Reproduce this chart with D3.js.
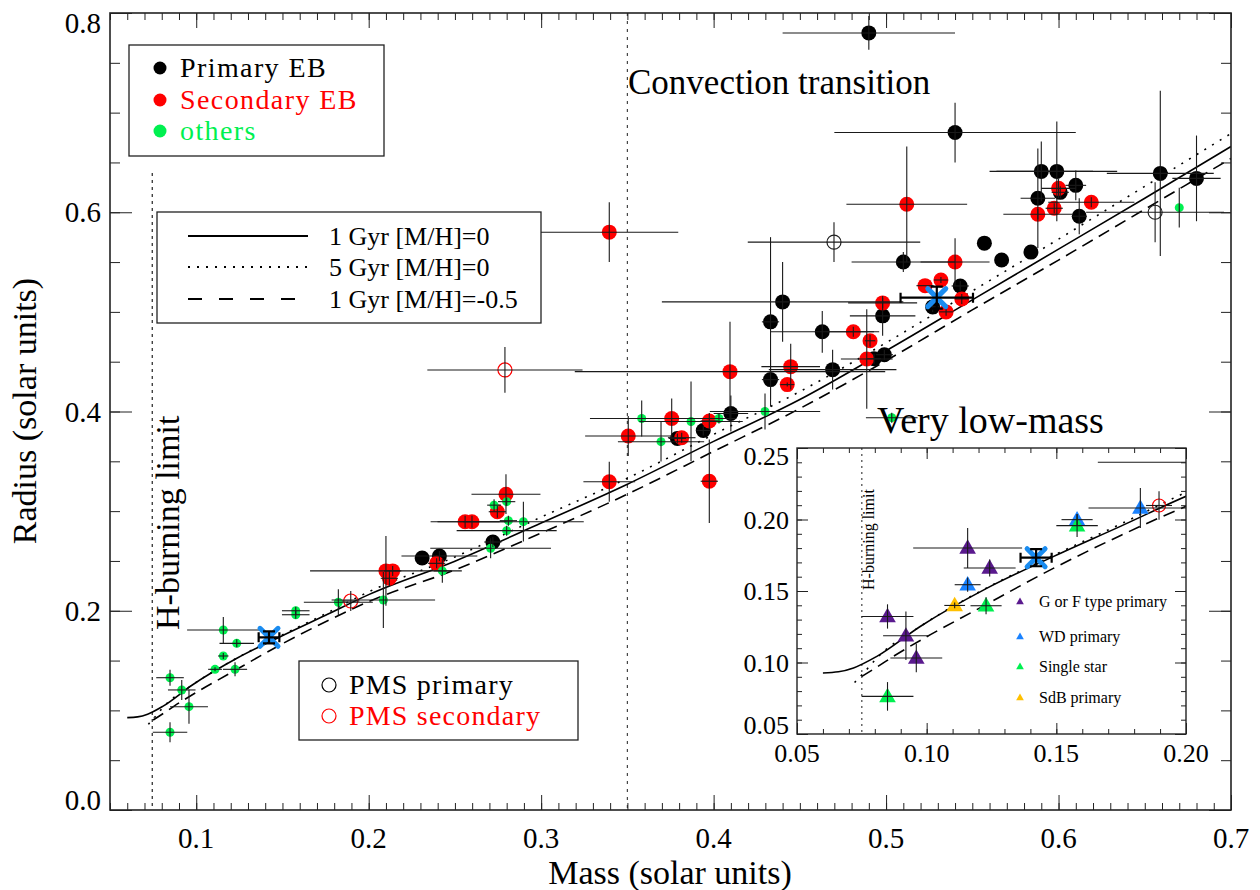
<!DOCTYPE html>
<html>
<head>
<meta charset="utf-8">
<script src="https://cdn.jsdelivr.net/npm/d3@7"></script>
<style>
body { margin: 0; background: #fff; }
svg text { font-family: "Liberation Serif", "DejaVu Serif", "Times New Roman", serif; }
</style>
</head>
<body>
<svg id="chart" width="1260" height="890" font-family="Liberation Serif, DejaVu Serif, serif"></svg>
<script>
// ---- data: main panel ----
// primary EB (black filled)
const primMass = [0.490,0.540,0.590,0.599,0.601,0.610,0.588,0.612,0.659,0.680,0.510,0.557,0.567,0.584,0.498,0.493,0.499,0.543,0.527,0.440,0.433,0.433,0.463,0.469,0.410,0.394,0.379,0.272,0.231,0.241];
const primRad  = [0.780,0.680,0.641,0.641,0.620,0.627,0.614,0.596,0.639,0.634,0.550,0.569,0.552,0.560,0.496,0.453,0.457,0.526,0.505,0.510,0.490,0.432,0.480,0.442,0.398,0.381,0.373,0.269,0.253,0.255];
const primMErr = [0.050,0.070,0.030,0.035,0.005,0.006,0.010,0.004,0.031,0.014,0.030,0,0,0,0.019,0.004,0.005,0.005,0.004,0.070,0.005,0.005,0.030,0.037,0.010,0.004,0.005,0.005,0,0.022];
const primRErr = [0.017,0.030,0.030,0.050,0.006,0.015,0.050,0.018,0.083,0.043,0.010,0,0,0,0.020,0.005,0.005,0.005,0.005,0.040,0.085,0.020,0.021,0.020,0.018,0.005,0.005,0.005,0,0.005];

// secondary EB (red filled)
const secMass = [0.3395,0.512,0.540,0.600,0.588,0.5975,0.619,0.498,0.481,0.4907,0.4888,0.5226,0.5318,0.5439,0.5348,0.4095,0.4447,0.4427,0.3975,0.3815,0.3757,0.3505,0.3975,0.3395,0.2796,0.2746,0.2559,0.2599,0.2394,0.210,0.2139,0.212];
const secRad  = [0.580,0.608,0.550,0.624,0.598,0.604,0.610,0.509,0.480,0.471,0.4527,0.5263,0.532,0.513,0.500,0.440,0.445,0.427,0.3905,0.3737,0.393,0.3754,0.330,0.3295,0.317,0.2994,0.2894,0.2894,0.2476,0.240,0.240,0.2326];
const secMErr = [0.040,0.035,0.020,0.010,0.020,0.005,0.025,0.020,0.015,0.003,0.015,0.005,0.004,0.004,0.004,0.090,0.017,0.004,0.005,0.008,0.030,0.025,0.005,0.015,0.020,0.005,0.020,0.020,0.005,0.044,0.005,0.005];
const secRErr = [0.030,0.058,0.024,0.010,0.005,0.005,0.005,0.005,0.005,0.006,0.050,0,0.003,0.005,0.004,0.050,0.023,0.002,0.008,0.005,0.020,0.020,0.042,0.020,0.020,0.006,0.006,0.006,0.005,0.035,0.005,0.008];

// others (green)
const othMass = [0.4298,0.4031,0.3869,0.3695,0.3583,0.5033,0.280,0.2727,0.281,0.2897,0.280,0.2707,0.2427,0.2085,0.1824,0.1577,0.1577,0.1157,0.1235,0.1157,0.1109,0.1225,0.0848,0.0916,0.0958,0.0848,0.670];
const othRad  = [0.400,0.393,0.390,0.3697,0.393,0.3938,0.3095,0.306,0.2904,0.2894,0.2804,0.2627,0.240,0.2108,0.2085,0.200,0.196,0.1807,0.1673,0.1546,0.1412,0.1412,0.1328,0.1205,0.1037,0.078,0.6046];
const othMErr = [0.032,0.010,0.030,0.025,0.030,0.015,0.005,0.004,0.005,0.035,0.029,0.035,0.005,0.030,0.020,0.008,0.008,0.021,0.010,0.003,0.004,0.007,0.008,0.008,0.011,0.010,0];
const othRErr = [0.018,0.005,0.040,0.020,0.018,0.005,0.004,0.006,0.005,0.020,0.005,0.010,0.012,0.028,0.013,0.004,0.004,0.013,0.004,0.003,0.002,0.007,0.008,0.010,0.017,0.010,0.020];

// pre-main-sequence
const pmsPrimMass = [0.4698,0.656];
const pmsPrimRad  = [0.570,0.600];
const pmsPrimMErr = [0.050,0.040];
const pmsPrimRErr = [0.020,0.030];
const pmsSecMass = [0.279,0.1896];
const pmsSecRad  = [0.4417,0.2098];
const pmsSecMErr = [0.045,0.005];
const pmsSecRErr = [0.023,0.010];

// the two highlighted objects (blue crosses)
const starMass = [0.1422,0.5294];
const starRad  = [0.1733,0.5143];
const starMErr = [0.006,0.021];
const starRErr = [0.006,0.011];

// model isochrones
const isoMass1 = [0.060,0.066,0.0718,0.0808,0.0975,0.1233,0.149,0.1747,0.200,0.250,0.300,0.350,0.400,0.450,0.500,0.550,0.600,0.650,0.700];
const isoRad1  = [0.0927,0.0935,0.0962,0.1043,0.1252,0.152,0.1742,0.1952,0.2162,0.2498,0.288,0.327,0.370,0.412,0.461,0.512,0.563,0.614,0.666];
const isoMass5 = [0.0722,0.0757,0.081,0.0975,0.123,0.149,0.175,0.200,0.250,0.300,0.350,0.400,0.450,0.500,0.550,0.600,0.650,0.700];
const isoRad5  = [0.086,0.0927,0.1035,0.1252,0.152,0.175,0.197,0.219,0.254,0.294,0.333,0.377,0.420,0.469,0.521,0.573,0.626,0.679];
const isoMassZ = [0.075,0.081,0.0872,0.100,0.118,0.149,0.175,0.200,0.250,0.300,0.350,0.400,0.450,0.500,0.550,0.600,0.650,0.700];
const isoRadZ  = [0.0903,0.097,0.1043,0.118,0.1357,0.166,0.189,0.2092,0.241,0.278,0.317,0.360,0.403,0.451,0.502,0.552,0.603,0.654];

// ---- data: inset (very low mass, by primary type) ----
const gfMass = [0.0849,0.092,0.096,0.1158,0.1243];
const gfRad  = [0.1322,0.1187,0.1031,0.1801,0.1661];
const gfMErr = [0.010,0.0088,0.010,0.021,0.010];
const gfRErr = [0.0085,0.017,0.010,0.014,0.006];
const wdMass = [0.1158,0.158,0.1824];
const wdRad  = [0.1544,0.1999,0.208];
const wdMErr = [0.005,0.006,0.020];
const wdRErr = [0.005,0.004,0.014];
const singleMass = [0.158,0.1229,0.0849];
const singleRad  = [0.1957,0.1397,0.0763];
const singleMErr = [0.008,0.006,0.010];
const singleRErr = [0.008,0.006,0.010];
const sdbMass = [0.1108];
const sdbRad  = [0.1399];
const sdbMErr = [0.004];
const sdbRErr = [0.002];

const xMajor = [0.1,0.2,0.3,0.4,0.5,0.6,0.7];
const yMajor = [0.0,0.2,0.4,0.6,0.8];
const insetXMajor = [0.05,0.10,0.15,0.20];
const insetYMajor = [0.05,0.10,0.15,0.20,0.25];

// ---- colours ----
const RED = "#ff0000", GREEN = "#00f050", BLUEX = "#1a8cf0";
const PURPLE = "#5a1a8e", WDBLUE = "#1a82ff", YELLOW = "#ffc000";

const svg = d3.select("#chart");

const x = d3.scaleLinear().domain([0.05, 0.7]).range([110, 1231]);
const y = d3.scaleLinear().domain([0, 0.8]).range([810, 13]);

const ix = d3.scaleLinear().domain([0.05, 0.20]).range([797, 1186]);
const iy = d3.scaleLinear().domain([0.05, 0.25]).range([734, 448]);

svg.append("defs").call(d => {
    d.append("clipPath").attr("id", "clipMain")
        .append("rect").attr("x", 110).attr("y", 13).attr("width", 1121).attr("height", 797);
    d.append("clipPath").attr("id", "clipInset")
        .append("rect").attr("x", 797).attr("y", 448).attr("width", 389).attr("height", 286);
});

// ---------- helpers ----------
function ticks(g, xs, ys, xMinor, xMaj, yMinor, yMaj, lx, sx, ly, sy) {
    const [x0, x1] = xs.range(), [y0, y1] = ys.range();
    const noDomain = s => s.select(".domain").remove();
    const add = (axis, tr) => g.append("g").attr("transform", tr).call(axis).call(noDomain);
    add(d3.axisBottom(xs).tickValues(xMinor).tickSize(-sx).tickFormat(""), `translate(0,${y0})`);
    add(d3.axisBottom(xs).tickValues(xMaj).tickSize(-lx).tickFormat(""), `translate(0,${y0})`);
    add(d3.axisTop(xs).tickValues(xMinor).tickSize(-sx).tickFormat(""), `translate(0,${y1})`);
    add(d3.axisTop(xs).tickValues(xMaj).tickSize(-lx).tickFormat(""), `translate(0,${y1})`);
    add(d3.axisLeft(ys).tickValues(yMinor).tickSize(-sy).tickFormat(""), `translate(${x0},0)`);
    add(d3.axisLeft(ys).tickValues(yMaj).tickSize(-ly).tickFormat(""), `translate(${x0},0)`);
    add(d3.axisRight(ys).tickValues(yMinor).tickSize(-sy).tickFormat(""), `translate(${x1},0)`);
    add(d3.axisRight(ys).tickValues(yMaj).tickSize(-ly).tickFormat(""), `translate(${x1},0)`);
    g.selectAll(".tick line").attr("stroke", "#222").attr("stroke-width", 1);
    g.selectAll(".tick text").remove();
}

function errorBars(g, xs, ys, mass, rad, mErr, rErr) {
    const idx = d3.range(mass.length);
    g.selectAll(null).data(idx.filter(i => mErr[i] > 0)).join("line")
        .attr("x1", i => xs(mass[i] - mErr[i])).attr("x2", i => xs(mass[i] + mErr[i]))
        .attr("y1", i => ys(rad[i])).attr("y2", i => ys(rad[i]))
        .attr("stroke", "#1a1a1a").attr("stroke-width", 1.1);
    g.selectAll(null).data(idx.filter(i => rErr[i] > 0)).join("line")
        .attr("x1", i => xs(mass[i])).attr("x2", i => xs(mass[i]))
        .attr("y1", i => ys(rad[i] - rErr[i])).attr("y2", i => ys(rad[i] + rErr[i]))
        .attr("stroke", "#1a1a1a").attr("stroke-width", 1.1);
}

function dots(g, xs, ys, mass, rad, r, fill, stroke) {
    g.selectAll(null).data(d3.range(mass.length)).join("circle")
        .attr("cx", i => xs(mass[i])).attr("cy", i => ys(rad[i])).attr("r", r)
        .attr("fill", fill).attr("stroke", stroke || "none").attr("stroke-width", 1.2);
}

function triangles(g, xs, ys, mass, rad, size, fill) {
    g.selectAll(null).data(d3.range(mass.length)).join("path")
        .attr("d", d3.symbol(d3.symbolTriangle, size))
        .attr("transform", i => `translate(${xs(mass[i])},${ys(rad[i]) + 1})`)
        .attr("fill", fill);
}

function crosses(g, xs, ys, mass, rad, mErr, rErr) {
    const idx = d3.range(mass.length);
    g.selectAll(null).data(idx).join("path")
        .attr("d", "M-9,-9L9,9M-9,9L9,-9")
        .attr("transform", i => `translate(${xs(mass[i])},${ys(rad[i])})`)
        .attr("stroke", BLUEX).attr("stroke-width", 5).attr("stroke-linecap", "round");
    // capped error bars
    idx.forEach(i => {
        const cx = xs(mass[i]), cy = ys(rad[i]);
        const xa = xs(mass[i] - mErr[i]), xb = xs(mass[i] + mErr[i]);
        const ya = ys(rad[i] - rErr[i]), yb = ys(rad[i] + rErr[i]);
        const p = `M${xa},${cy}H${xb}M${xa},${cy - 5}V${cy + 5}M${xb},${cy - 5}V${cy + 5}` +
                  `M${cx},${ya}V${yb}M${cx - 6},${ya}H${cx + 6}M${cx - 6},${yb}H${cx + 6}`;
        g.append("path").attr("d", p).attr("fill", "none").attr("stroke", "#000").attr("stroke-width", 2.2);
    });
}

function curves(g, xs, ys) {
    const line = d3.line().x(d => xs(d[0])).y(d => ys(d[1])).curve(d3.curveMonotoneX);
    g.append("path").attr("d", line(d3.zip(isoMass1, isoRad1)))
        .attr("fill", "none").attr("stroke", "#000").attr("stroke-width", 1.6);
    g.append("path").attr("d", line(d3.zip(isoMass5, isoRad5)))
        .attr("fill", "none").attr("stroke", "#000").attr("stroke-width", 1.6).attr("stroke-dasharray", "2,7");
    g.append("path").attr("d", line(d3.zip(isoMassZ, isoRadZ)))
        .attr("fill", "none").attr("stroke", "#000").attr("stroke-width", 1.6).attr("stroke-dasharray", "12,7");
}

// ---------- main panel ----------
const main = svg.append("g").attr("clip-path", "url(#clipMain)");

// vertical reference lines
main.append("line").attr("x1", x(0.0745)).attr("x2", x(0.0745)).attr("y1", 173).attr("y2", y(0))
    .attr("stroke", "#222").attr("stroke-width", 1.2).attr("stroke-dasharray", "3,4");
main.append("line").attr("x1", x(0.35)).attr("x2", x(0.35)).attr("y1", y(0.8)).attr("y2", y(0))
    .attr("stroke", "#444").attr("stroke-width", 1.2).attr("stroke-dasharray", "3,5");

curves(main, x, y);

dots(main, x, y, primMass, primRad, 7.5, "#000");
dots(main, x, y, secMass, secRad, 7.5, RED);
dots(main, x, y, othMass, othRad, 4.5, GREEN);
dots(main, x, y, pmsPrimMass, pmsPrimRad, 7, "none", "#222");
dots(main, x, y, pmsSecMass, pmsSecRad, 7, "none", RED);

errorBars(main, x, y, primMass, primRad, primMErr, primRErr);
errorBars(main, x, y, secMass, secRad, secMErr, secRErr);
errorBars(main, x, y, othMass, othRad, othMErr, othRErr);
errorBars(main, x, y, pmsPrimMass, pmsPrimRad, pmsPrimMErr, pmsPrimRErr);
errorBars(main, x, y, pmsSecMass, pmsSecRad, pmsSecMErr, pmsSecRErr);
crosses(main, x, y, starMass, starRad, starMErr, starRErr);

// frame + ticks
const axesG = svg.append("g");
ticks(axesG, x, y, d3.range(5, 71).map(i => i / 100), xMajor,
      d3.range(0, 17).map(i => i * 0.05), yMajor, 15, 7, 22, 10);
svg.append("rect").attr("x", 110).attr("y", 13).attr("width", 1121).attr("height", 797)
    .attr("fill", "none").attr("stroke", "#222").attr("stroke-width", 1.6);

// tick labels
svg.append("g").selectAll("text").data(xMajor).join("text")
    .attr("x", d => x(d)).attr("y", 848).attr("text-anchor", "middle")
    .attr("font-size", 29).text(d => d3.format(".1f")(d));
svg.append("g").selectAll("text").data(yMajor).join("text")
    .attr("x", 101).attr("y", d => Math.min(800, Math.max(23, y(d)))).attr("dy", "0.35em")
    .attr("text-anchor", "end").attr("font-size", 29).text(d => d3.format(".1f")(d));

// axis titles
svg.append("text").attr("x", 670).attr("y", 884).attr("text-anchor", "middle")
    .attr("font-size", 34).text("Mass (solar units)");
svg.append("text").attr("transform", "translate(36,411) rotate(-90)").attr("text-anchor", "middle")
    .attr("font-size", 34).text("Radius (solar units)");

// annotations
svg.append("text").attr("x", 628).attr("y", 94).attr("font-size", 35).text("Convection transition");
svg.append("text").attr("transform", "translate(179,630) rotate(-90)")
    .attr("font-size", 34).text("H-burning limit");

// legend: data types
const leg1 = svg.append("g");
leg1.append("rect").attr("x", 129).attr("y", 45).attr("width", 255).attr("height", 111)
    .attr("fill", "#fff").attr("stroke", "#222").attr("stroke-width", 1.3);
[["Primary EB", "#000", 68], ["Secondary EB", RED, 100], ["others", GREEN, 131]].forEach(([t, c, yy]) => {
    leg1.append("circle").attr("cx", 160).attr("cy", yy).attr("r", 6.5).attr("fill", c);
    leg1.append("text").attr("x", 180).attr("y", yy + 9).attr("font-size", 28)
        .attr("letter-spacing", 1.4).attr("fill", c).text(t);
});

// legend: models
const leg2 = svg.append("g");
leg2.append("rect").attr("x", 157).attr("y", 212).attr("width", 384).attr("height", 111)
    .attr("fill", "#fff").attr("stroke", "#222").attr("stroke-width", 1.3);
[["1 Gyr [M/H]=0", null, 236], ["5 Gyr [M/H]=0", "2,7", 267], ["1 Gyr [M/H]=-0.5", "14,17", 299]].forEach(([t, dash, yy]) => {
    leg2.append("line").attr("x1", 188).attr("x2", 308).attr("y1", yy).attr("y2", yy)
        .attr("stroke", "#000").attr("stroke-width", 1.8).attr("stroke-dasharray", dash);
    leg2.append("text").attr("x", 329).attr("y", yy + 9).attr("font-size", 26).text(t);
});

// legend: PMS
const leg3 = svg.append("g");
leg3.append("rect").attr("x", 299).attr("y", 661).attr("width", 279).attr("height", 79)
    .attr("fill", "#fff").attr("stroke", "#222").attr("stroke-width", 1.3);
[["PMS primary", "#000", 685], ["PMS secondary", RED, 716]].forEach(([t, c, yy]) => {
    leg3.append("circle").attr("cx", 329).attr("cy", yy).attr("r", 7).attr("fill", "none").attr("stroke", c).attr("stroke-width", 1.2);
    leg3.append("text").attr("x", 349).attr("y", yy + 9).attr("font-size", 28)
        .attr("letter-spacing", 1.2).attr("fill", c).text(t);
});

// ---------- inset ----------
svg.append("rect").attr("x", 797).attr("y", 448).attr("width", 389).attr("height", 286).attr("fill", "#fff");
const inset = svg.append("g").attr("clip-path", "url(#clipInset)");

inset.append("line").attr("x1", ix(0.075)).attr("x2", ix(0.075)).attr("y1", 448).attr("y2", 734)
    .attr("stroke", "#333").attr("stroke-width", 1.1).attr("stroke-dasharray", "2,4");
curves(inset, ix, iy);

dots(inset, ix, iy, primMass, primRad, 7.5, "#000");
dots(inset, ix, iy, secMass, secRad, 7.5, RED);
dots(inset, ix, iy, pmsSecMass, pmsSecRad, 6.5, "none", RED);
triangles(inset, ix, iy, gfMass, gfRad, 120, PURPLE);
triangles(inset, ix, iy, wdMass, wdRad, 120, WDBLUE);
triangles(inset, ix, iy, singleMass, singleRad, 120, GREEN);
triangles(inset, ix, iy, sdbMass, sdbRad, 120, YELLOW);

errorBars(inset, ix, iy, primMass, primRad, primMErr, primRErr);
errorBars(inset, ix, iy, secMass, secRad, secMErr, secRErr);
errorBars(inset, ix, iy, pmsSecMass, pmsSecRad, pmsSecMErr, pmsSecRErr);
errorBars(inset, ix, iy, gfMass, gfRad, gfMErr, gfRErr);
errorBars(inset, ix, iy, wdMass, wdRad, wdMErr, wdRErr);
errorBars(inset, ix, iy, singleMass, singleRad, singleMErr, singleRErr);
errorBars(inset, ix, iy, sdbMass, sdbRad, sdbMErr, sdbRErr);
crosses(inset, ix, iy, starMass.slice(0, 1), starRad.slice(0, 1), starMErr.slice(0, 1), starRErr.slice(0, 1));

inset.append("text").attr("transform", `translate(${ix(0.075) + 12},590) rotate(-90)`)
    .attr("font-size", 16).text("H-burning limit");

// inset legend
[["G or F type primary", PURPLE, 602], ["WD primary", WDBLUE, 637], ["Single star", GREEN, 667], ["SdB primary", YELLOW, 698]].forEach(([t, c, yy]) => {
    svg.append("path").attr("d", d3.symbol(d3.symbolTriangle, 26)).attr("transform", `translate(1020,${yy})`).attr("fill", c);
    svg.append("text").attr("x", 1039).attr("y", yy + 5).attr("font-size", 16).text(t);
});

const insetAxes = svg.append("g");
ticks(insetAxes, ix, iy, d3.range(5, 21).map(i => i / 100), insetXMajor,
      d3.range(5, 26).map(i => i / 100), insetYMajor, 11, 5, 11, 5);
svg.append("rect").attr("x", 797).attr("y", 448).attr("width", 389).attr("height", 286)
    .attr("fill", "none").attr("stroke", "#222").attr("stroke-width", 1.4);

svg.append("g").selectAll("text").data(insetXMajor).join("text")
    .attr("x", d => ix(d)).attr("y", 762).attr("text-anchor", "middle")
    .attr("font-size", 26).text(d => d3.format(".2f")(d));
svg.append("g").selectAll("text").data(insetYMajor).join("text")
    .attr("x", 789).attr("y", d => Math.min(725, Math.max(456, iy(d)))).attr("dy", "0.35em")
    .attr("text-anchor", "end").attr("font-size", 26).text(d => d3.format(".2f")(d));

svg.append("text").attr("x", 877).attr("y", 433).attr("font-size", 38).text("Very low-mass");
</script>
</body>
</html>
